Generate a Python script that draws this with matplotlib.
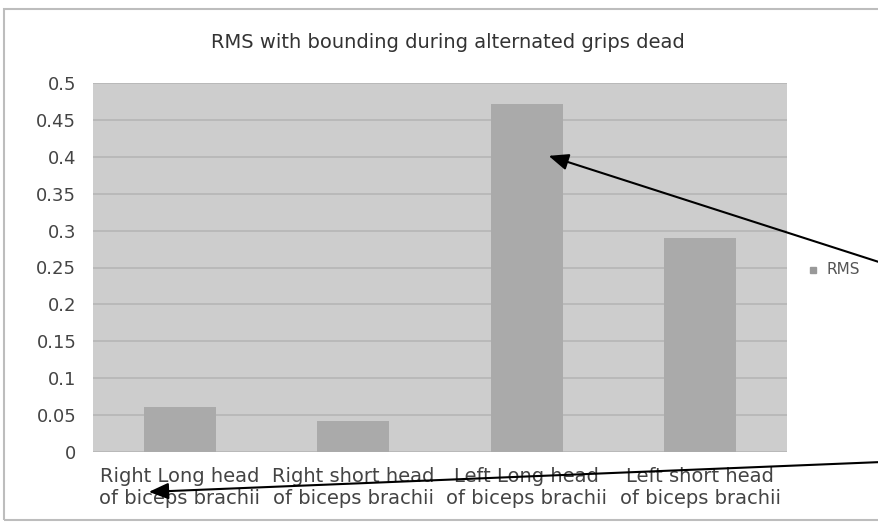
import matplotlib
matplotlib.use("Agg")
import matplotlib.pyplot as plt
from matplotlib.patches import Rectangle
import numpy as np

categories = ["Right Long head\nof biceps brachii",
              "Right short head\nof biceps brachii",
              "Left Long head\nof biceps brachii",
              "Left short head\nof biceps brachii"]
rms_values = [0.061, 0.042, 0.472, 0.290]
y_ticks = [0, 0.05, 0.1, 0.15, 0.2, 0.25, 0.3, 0.35, 0.4, 0.45, 0.5]
y_tick_labels = ["0", "0.05", "0.1", "0.15", "0.2", "0.25", "0.3", "0.35", "0.4", "0.45", "0.5"]
title = "RMS with bounding during alternated grips dead"
series_name = "RMS"

W, H = 879, 524
fig = plt.figure(figsize=(W / 100, H / 100), dpi=100)
fig.patch.set_facecolor("white")

# outer chart frame
fig.patches.append(Rectangle((4 / W, (H - 520) / H), (W + 10) / W, (520 - 9) / H,
                             transform=fig.transFigure, fill=False,
                             edgecolor="#bdbdbd", linewidth=1.5))

ax = fig.add_axes([93 / W, (H - 452) / H, (787 - 93) / W, (452 - 83) / H])
ax.set_facecolor("#cdcdcd")
x = np.arange(len(categories))
ax.bar(x, rms_values, width=0.415, color="#aaaaaa", zorder=3, label=series_name)
ax.set_xlim(-0.5, len(categories) - 0.5)
ax.set_ylim(0, 0.5)
ax.set_yticks(y_ticks)
ax.set_yticklabels(y_tick_labels)
ax.yaxis.grid(True, color="#b5b5b5", linewidth=1.2, zorder=0)
ax.set_axisbelow(True)
ax.set_xticks(x)
ax.set_xticklabels(categories, linespacing=1.15)
for s in ax.spines.values():
    s.set_visible(False)
ax.tick_params(axis="y", length=0, pad=12, labelsize=13, labelcolor="#444444")
ax.tick_params(axis="x", length=0, pad=11, labelsize=14, labelcolor="#444444")

fig.text(0.51, 1 - 42 / H, title, ha="center", va="center", fontsize=14, color="#333333")

# legend
fig.patches.append(Rectangle((810 / W, (H - 273) / H), 6 / W, 6 / H,
                             transform=fig.transFigure, color="#999999"))
fig.text(827 / W, 1 - 270 / H, series_name, ha="left", va="center", fontsize=11, color="#555555")

# arrows
arrow_style = dict(arrowstyle="-|>,head_length=1.2,head_width=0.5", color="black", lw=1.5)
ax.annotate("", xy=(546, H - 155), xycoords="figure pixels",
            xytext=(882, H - 263), textcoords="figure pixels", arrowprops=arrow_style,
            annotation_clip=False)
ax.annotate("", xy=(146, H - 492), xycoords="figure pixels",
            xytext=(882, H - 462), textcoords="figure pixels", arrowprops=arrow_style,
            annotation_clip=False)

fig.savefig("out.png", dpi=100)
